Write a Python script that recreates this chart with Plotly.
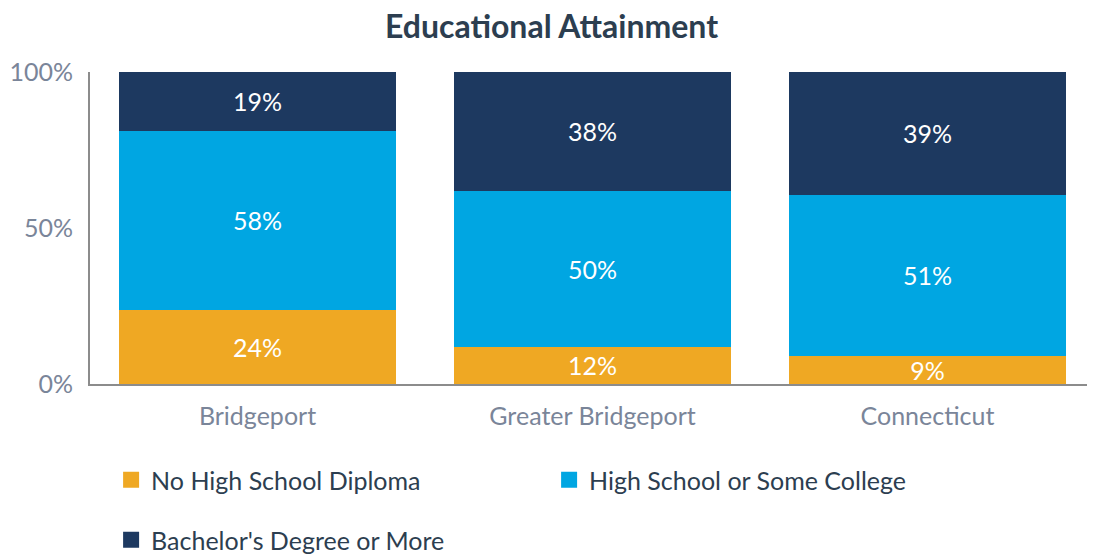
import plotly.graph_objects as go

places = ['Bridgeport', 'Greater Bridgeport', 'Connecticut']
no_diploma = [24, 12, 9]
hs_some_college = [58, 50, 51]
bachelors = [19, 38, 39]

series = [
    ('No High School Diploma', no_diploma, '#EFA823', 'legend'),
    ('High School or Some College', hs_some_college, '#00A6E2', 'legend'),
    ("Bachelor's Degree or More", bachelors, '#1D3960', 'legend2'),
]

fig = go.Figure()
for name, vals, color, leg in series:
    fig.add_trace(go.Bar(
        x=places, y=vals, name=name,
        marker=dict(color=color, line=dict(width=0)),
        text=[f'{v}%' for v in vals],
        textposition='inside', insidetextanchor='middle',
        textfont=dict(color='white', size=25, family='Lato'),
        constraintext='none',
        showlegend=False,
    ))
    # bigger square legend swatch
    fig.add_trace(go.Scatter(
        x=[None], y=[None], mode='markers', name=name,
        marker=dict(symbol='square', size=16, color=color),
        legend=leg,
    ))

# page body has an 8px margin, so the figure is shifted
fig.update_layout(
    barmode='stack',
    barnorm='percent',
    bargap=0.173,
    width=1087, height=548,
    margin=dict(l=82, r=0, t=64, b=172, autoexpand=False),
    paper_bgcolor='white', plot_bgcolor='white',
    font=dict(family='Lato', size=25, color='#7A8599'),
    title=dict(text='<b>Educational Attainment</b>', x=0.5, xanchor='center',
               y=1 - 19 / 548, yanchor='middle',
               font=dict(size=32, color='#2C3E50', family='Lato')),
    xaxis=dict(showline=True, linecolor='#8C8C8C', linewidth=2, ticks='',
               ticklabelstandoff=9, automargin=False,
               tickfont=dict(size=25, color='#7A8599')),
    yaxis=dict(range=[0, 100], tickvals=[0, 50, 100], ticktext=['0%', '50%', '100%'],
               showgrid=False, zeroline=False, showline=True, linecolor='#8C8C8C',
               linewidth=2, ticks='', ticklabelstandoff=10, automargin=False,
               tickfont=dict(size=25, color='#7A8599')),
    legend=dict(orientation='h', traceorder='normal', x=0.021, xanchor='left',
                yref='container', y=1 - 472 / 548, yanchor='middle',
                entrywidthmode='pixels', entrywidth=393,
                font=dict(size=25, color='#2C3E50')),
    legend2=dict(orientation='h', x=0.021, xanchor='left',
                 yref='container', y=1 - 532 / 548, yanchor='middle',
                 font=dict(size=25, color='#2C3E50')),
)

fig.write_html('out.html')
